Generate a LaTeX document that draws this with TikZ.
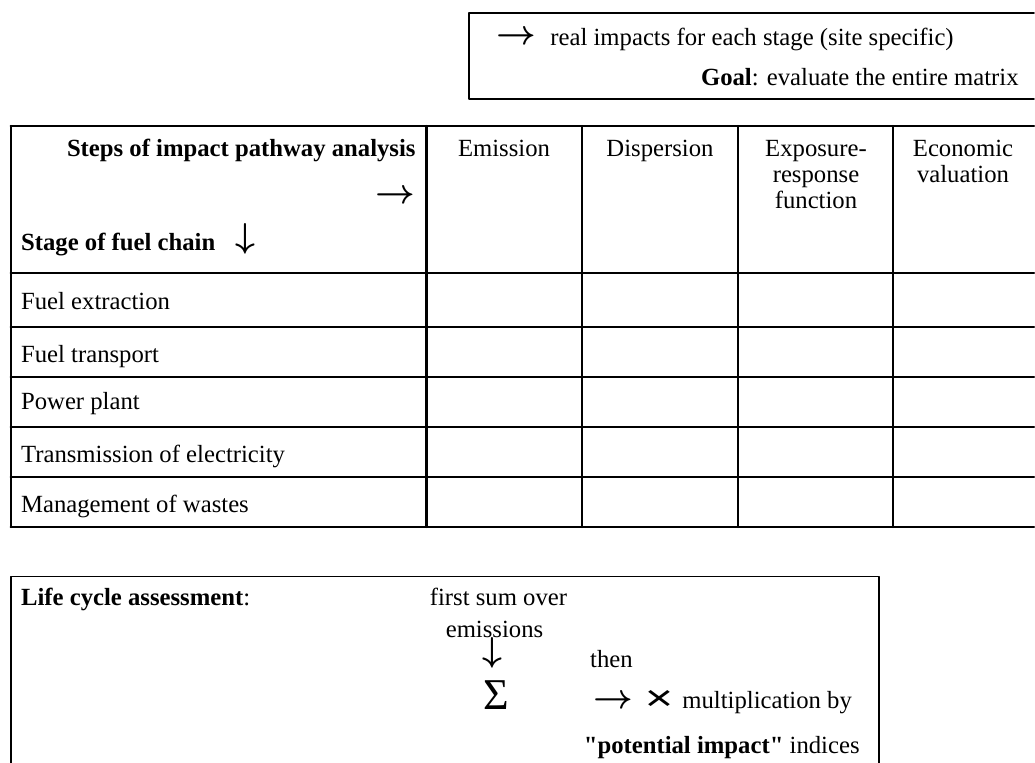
\documentclass[tikz,border=0pt]{standalone}
\usepackage{fontspec}
\setmainfont{Liberation Serif}
\newfontfamily\sansx{Liberation Sans}
\usepackage{tikz}
\usetikzlibrary{positioning}

\begin{document}
\begin{tikzpicture}[line cap=round,line join=round,x=0.5pt,y=-0.5pt,
  txt/.style={inner sep=0pt,font=\fontsize{12.35}{15}\selectfont},
  btxt/.style={txt,font=\fontsize{12.35}{15}\selectfont\bfseries},
  hd/.style={txt,align=center,anchor=base},
  arr/.style={inner sep=0pt,font=\fontsize{17}{17}\selectfont\boldmath},
  rule/.style={line width=1.1pt},
  box/.style={line width=0.9pt}]
\useasboundingbox (0,0) rectangle (1035,762);
%\draw [help lines] (0,0) grid [step=50] (1035,762);
% box at the top
\draw [box] (1034,13) -- (469,13) -- (469,99) -- (1034,99);
\node [arr,anchor=base west,font=\fontsize{18}{18}\selectfont\boldmath] (arrtop) at (496,44) {$\rightarrow$};
\node [txt,anchor=base west] (real) at (550,45) {real impacts for each stage (site specific)};
\node [txt,anchor=base east] (goal) at (1019,85) {\textbf{Goal}: evaluate the entire matrix};
% the matrix
\foreach \y in {126,273,327,377,427,477,527}
  \draw [rule] (10.7,\y) -- (1034,\y);
\foreach \x in {10.7,426.5,582,738,893.3}
  \draw [rule] (\x,126) -- (\x,527);
\node [btxt,anchor=base east] (steps) at (416,156) {Steps of impact pathway analysis};
\node [arr,anchor=base east,font=\fontsize{18}{18}\selectfont\boldmath] (arrsteps) at (416,203) {$\rightarrow$};
\node [btxt,anchor=base west] (stage) at (20.7,250) {Stage of fuel chain};
\node [arr,anchor=base west] (arrstage) at (235.5,247) {$\downarrow$};
\node [hd] (emis) at (504,156) {Emission};
\node [hd] (disp) at (660,156) {Dispersion};
\node [hd] (erf) at (816,208) {Exposure-\\[-2pt]response\\[-2pt]function};
\node [hd] (econ) at (963,182) {Economic\\[-2pt]valuation};
\node [txt,anchor=base west] (row1) at (20.7,309) {Fuel extraction};
\node [txt,anchor=base west] (row2) at (20.7,362) {Fuel transport};
\node [txt,anchor=base west] (row3) at (20.7,409) {Power plant};
\node [txt,anchor=base west] (row4) at (20.7,462) {Transmission of electricity};
\node [txt,anchor=base west] (row5) at (20.7,512) {Management of wastes};
% life cycle box
\draw [box] (10.7,770) -- (10.7,576.5) -- (879,576.5) -- (879,770);
\node [btxt,anchor=base west] (lca) at (20.7,605) {Life cycle assessment\textmd{:}};
\node [txt,anchor=base] (first) at (498.5,605) {first sum over};
\node [txt,anchor=base] (emiss) at (494.5,637) {emissions};
\node [arr,anchor=base] (arrdown) at (492.7,661.5) {$\downarrow$};
\node [txt,anchor=base] (then) at (611.5,667) {then};
\node [txt,anchor=base,font=\fontsize{22}{22}\selectfont] (sigma) at (496,709) {Σ};
\node [arr,anchor=base west] (arrmult) at (593,708.5) {$\rightarrow$};
\node [inner sep=0pt] (times) at (659,700.5) {\scalebox{1.35}[1]{\sansx\fontsize{18}{18}\selectfont ×}};
\node [txt,anchor=base west] (mult) at (682,708) {multiplication by};
\node [txt,anchor=base east] (ind) at (860,753) {\textbf{\textquotedbl potential impact\textquotedbl} indices};
\end{tikzpicture}
\end{document}
